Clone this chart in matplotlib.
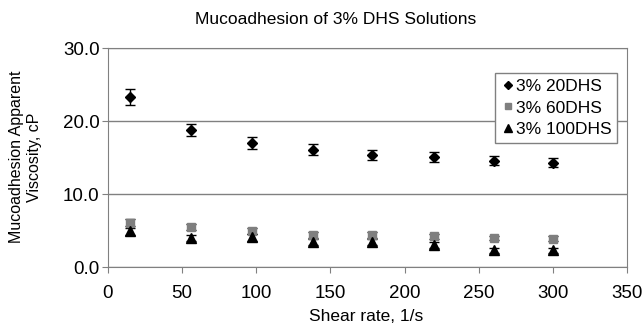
import matplotlib
matplotlib.use('Agg')
import matplotlib.pyplot as plt
from matplotlib.lines import Line2D

plt.rcParams['font.family'] = ['Liberation Sans', 'DejaVu Sans']

# Data
shear = [15, 56, 97, 138, 178, 220, 260, 300]
dhs20 = [23.3, 18.8, 17.0, 16.1, 15.4, 15.1, 14.6, 14.3]
dhs20_err = [1.1, 0.8, 0.8, 0.8, 0.7, 0.7, 0.6, 0.6]
dhs60 = [6.1, 5.5, 5.0, 4.4, 4.4, 4.2, 4.0, 3.9]
dhs60_err = [0.5, 0.4, 0.4, 0.4, 0.4, 0.4, 0.3, 0.3]
dhs100 = [4.9, 4.0, 4.1, 3.4, 3.4, 3.0, 2.3, 2.3]
dhs100_err = [0.5, 0.4, 0.5, 0.4, 0.4, 0.4, 0.3, 0.3]
labels = ['3% 20DHS', '3% 60DHS', '3% 100DHS']

fig = plt.figure(figsize=(6.42, 3.25), dpi=100)
ax = fig.add_axes([0.168, 0.178, 0.809, 0.674])

ax.errorbar(shear, dhs20, yerr=dhs20_err, fmt='D', color='black', ms=5.5,
            ecolor='black', elinewidth=1, capsize=3.5)
ax.errorbar(shear, dhs60, yerr=dhs60_err, fmt='s', color='#7f7f7f', ms=5.5,
            ecolor='black', elinewidth=1, capsize=3.5)
ax.errorbar(shear, dhs100, yerr=dhs100_err, fmt='^', color='black', ms=6.5,
            ecolor='black', elinewidth=1, capsize=3.5)

ax.set_xlim(0, 350)
ax.set_ylim(0, 30)
ax.set_xticks(range(0, 351, 50))
ax.set_yticks([0, 10, 20, 30])
ax.set_yticklabels(['0.0', '10.0', '20.0', '30.0'])
ax.tick_params(labelsize=13.5, color='#808080', length=4, direction='out')
ax.tick_params(axis='x', pad=9)
ax.tick_params(axis='y', pad=2)
ax.yaxis.grid(True, color='#808080', lw=1)
ax.set_axisbelow(True)
for s in ax.spines.values():
    s.set_color('#808080')

fig.text(0.523, 0.94, 'Mucoadhesion of 3% DHS Solutions', fontsize=12.5,
         ha='center', va='center')
fig.text(0.57, 0.025, 'Shear rate, 1/s', fontsize=12.5, ha='center', va='center')
fig.text(0.04, 0.517, 'Mucoadhesion Apparent\nViscosity, cP', fontsize=11.5,
         rotation=90, ha='center', va='center', multialignment='center')

handles = [Line2D([], [], ls='none', marker='D', color='black', ms=4),
           Line2D([], [], ls='none', marker='s', color='#7f7f7f', ms=5),
           Line2D([], [], ls='none', marker='^', color='black', ms=6)]
leg = ax.legend(handles, labels, loc='upper right', bbox_to_anchor=(0.981, 0.886),
                borderaxespad=0, fontsize=12.5, frameon=True, fancybox=False,
                handletextpad=0.05, handlelength=0.8, borderpad=0.35,
                labelspacing=0.35, framealpha=1)
leg.get_frame().set_edgecolor('#808080')

fig.savefig('out.png', dpi=100, facecolor='white')
